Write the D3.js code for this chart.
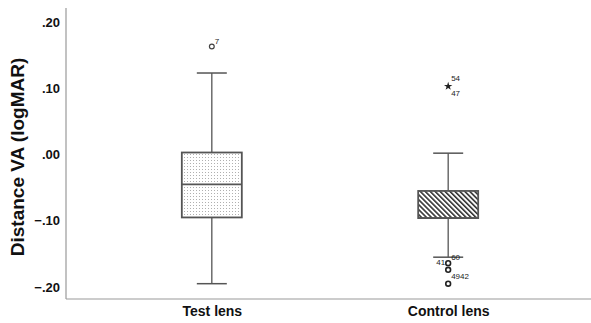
<!DOCTYPE html>
<html lang="en">
<head>
<meta charset="utf-8">
<title>Distance VA boxplot</title>
<script src="https://d3js.org/d3.v7.min.js"></script>
<style>
  body { margin: 0; background: #fff; }
  text { font-family: "Liberation Sans", Arial, sans-serif; }
</style>
</head>
<body>
<script>
// data
var groups = ["Test lens", "Control lens"];
var q1 = [-0.095, -0.096];
var median = [-0.045, -0.096];
var q3 = [0.003, -0.055];
var whiskLo = [-0.195, -0.155];
var whiskHi = [0.123, 0.002];
var yTicks = [-0.2, -0.1, 0, 0.1, 0.2];

// outliers: group index, value, kind, label
var outGroup = [0, 1, 1, 1, 1];
var outValue = [0.163, 0.103, -0.164, -0.174, -0.195];
var outKind  = ["circle", "star", "circle", "circle", "circle"];
var outLabels = [
  { g: 0, v: 0.163, text: "7", anchor: "start", dx: 3, dy: -3 },
  { g: 1, v: 0.103, text: "54", anchor: "start", dx: 3, dy: -5 },
  { g: 1, v: 0.103, text: "47", anchor: "start", dx: 3, dy: 10 },
  { g: 1, v: -0.155, text: "60", anchor: "start", dx: 3, dy: 3 },
  { g: 1, v: -0.164, text: "41", anchor: "end", dx: -3, dy: 2 },
  { g: 1, v: -0.174, text: "4942", anchor: "start", dx: 3, dy: 9 }
];

var width = 591, height = 323;
var svg = d3.select("body").append("svg")
    .attr("width", width)
    .attr("height", height);

var defs = svg.append("defs");
var dots = defs.append("pattern")
    .attr("id", "dots")
    .attr("patternUnits", "userSpaceOnUse")
    .attr("width", 3).attr("height", 3);
dots.append("rect").attr("width", 3).attr("height", 3).attr("fill", "#fff");
dots.append("rect").attr("x", 1).attr("y", 1).attr("width", 1).attr("height", 1).attr("fill", "#b0b0b0");

var hatch = defs.append("pattern")
    .attr("id", "hatch")
    .attr("patternUnits", "userSpaceOnUse")
    .attr("width", 3.5).attr("height", 3.5)
    .attr("patternTransform", "rotate(-45)");
hatch.append("rect").attr("width", 3.5).attr("height", 3.5).attr("fill", "#fff");
hatch.append("rect").attr("x", 0).attr("y", 0).attr("width", 1.6).attr("height", 3.5).attr("fill", "#333");

var y = d3.scaleLinear().domain([-0.2, 0.2]).range([287, 22]);
var x = d3.scalePoint().domain(groups).range([70, 590]).padding(0.6);

var fmt = function(d) {
  return d3.format(".2f")(d).replace("0.", ".");
};

// axes lines
svg.append("line")
    .attr("x1", 66).attr("x2", 66)
    .attr("y1", 8).attr("y2", 299)
    .attr("stroke", "#999").attr("stroke-width", 1.2);
svg.append("line")
    .attr("x1", 66).attr("x2", width)
    .attr("y1", 299).attr("y2", 299)
    .attr("stroke", "#999").attr("stroke-width", 1.2);

var yAxis = svg.append("g")
    .attr("transform", "translate(60,0)")
    .call(d3.axisLeft(y).tickValues(yTicks).tickSize(0).tickPadding(0).tickFormat(fmt));
yAxis.select(".domain").remove();
yAxis.selectAll("text")
    .attr("font-size", 13)
    .attr("font-weight", "bold")
    .attr("fill", "#111");

var xAxis = svg.append("g")
    .attr("transform", "translate(0,302)")
    .call(d3.axisBottom(x).tickSize(0).tickPadding(4));
xAxis.select(".domain").remove();
xAxis.selectAll("text")
    .attr("font-size", 14)
    .attr("font-weight", "bold")
    .attr("fill", "#111");

svg.append("text")
    .attr("transform", "translate(24," + 157 + ") rotate(-90)")
    .attr("text-anchor", "middle")
    .attr("font-size", 19)
    .attr("font-weight", "bold")
    .attr("fill", "#111")
    .text("Distance VA (logMAR)");

var boxW = 60, capW = 30;
var fills = ["url(#dots)", "url(#hatch)"];
var stroke = "#555";

groups.forEach(function(g, i) {
  var cx = x(g);
  var gg = svg.append("g");
  // whiskers
  gg.append("line")
      .attr("x1", cx).attr("x2", cx)
      .attr("y1", y(whiskHi[i])).attr("y2", y(q3[i]))
      .attr("stroke", stroke).attr("stroke-width", 1.3);
  gg.append("line")
      .attr("x1", cx).attr("x2", cx)
      .attr("y1", y(q1[i])).attr("y2", y(whiskLo[i]))
      .attr("stroke", stroke).attr("stroke-width", 1.3);
  [whiskHi[i], whiskLo[i]].forEach(function(v) {
    gg.append("line")
        .attr("x1", cx - capW / 2).attr("x2", cx + capW / 2)
        .attr("y1", y(v)).attr("y2", y(v))
        .attr("stroke", stroke).attr("stroke-width", 1.5);
  });
  gg.append("rect")
      .attr("x", cx - boxW / 2)
      .attr("y", y(q3[i]))
      .attr("width", boxW)
      .attr("height", y(q1[i]) - y(q3[i]))
      .attr("fill", fills[i])
      .attr("stroke", stroke).attr("stroke-width", 1.8);
  gg.append("line")
      .attr("x1", cx - boxW / 2).attr("x2", cx + boxW / 2)
      .attr("y1", y(median[i])).attr("y2", y(median[i]))
      .attr("stroke", stroke).attr("stroke-width", 1.8);
});

// outliers
var star = d3.symbol().type(d3.symbolStar).size(22);
outValue.forEach(function(v, k) {
  var cx = x(groups[outGroup[k]]);
  var cy = y(v);
  if (outKind[k] === "circle") {
    svg.append("circle")
        .attr("cx", cx).attr("cy", cy).attr("r", 2.4)
        .attr("fill", "none")
        .attr("stroke", outGroup[k] === 1 ? "#222" : "#444")
        .attr("stroke-width", outGroup[k] === 1 ? 1.6 : 1.2);
  } else {
    svg.append("path")
        .attr("d", star)
        .attr("transform", "translate(" + cx + "," + cy + ")")
        .attr("fill", "#222");
  }
});
outLabels.forEach(function(d) {
  svg.append("text")
      .attr("x", x(groups[d.g]) + d.dx)
      .attr("y", y(d.v) + d.dy)
      .attr("text-anchor", d.anchor)
      .attr("font-size", 8)
      .attr("fill", "#222")
      .text(d.text);
});
</script>
</body>
</html>
